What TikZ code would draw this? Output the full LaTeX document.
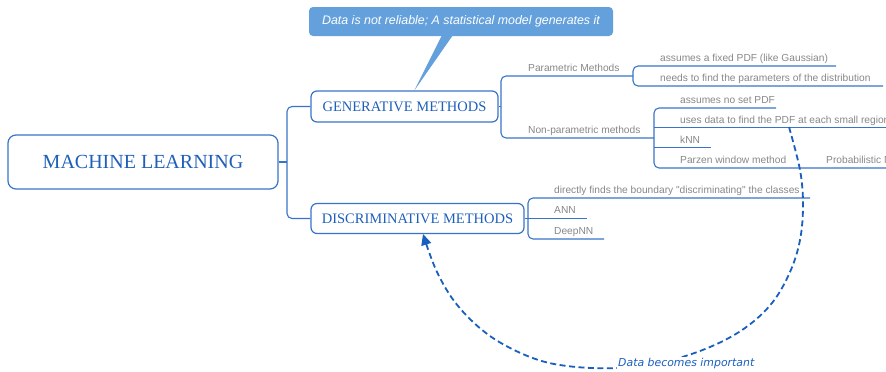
\documentclass[tikz,border=0pt]{standalone}
\usepackage{fontspec}
\setmainfont{Liberation Serif}
\newfontfamily\lsans{Liberation Sans}
\newfontfamily\dvs{DejaVu Sans}
\usetikzlibrary{arrows.meta}
\definecolor{boxblue}{RGB}{55,115,200}
\definecolor{titleblue}{RGB}{30,95,185}
\definecolor{leafgray}{RGB}{135,135,135}
\definecolor{callfill}{RGB}{100,160,220}
\definecolor{dashblue}{RGB}{25,95,190}
\tikzset{
  mainbox/.style={draw=boxblue, line width=1.2pt, rounded corners=6pt, text=titleblue, inner sep=0pt, font=\fontsize{14.5}{17}\selectfont},
  rootbox/.style={mainbox, rounded corners=8pt, font=\fontsize{20}{24}\selectfont},
  leaf/.style={anchor=base west, inner sep=0pt, text=leafgray, font=\lsans\fontsize{10.2}{12}\selectfont},
  conn/.style={draw=boxblue, line width=1.1pt, rounded corners=5pt},
  dasharrow/.style={draw=dashblue, line width=1.8pt, dash pattern=on 6pt off 3.5pt, -{Triangle[length=11pt,width=10pt]}},
}
\begin{document}
\begin{tikzpicture}[x=1pt,y=-1pt]
\useasboundingbox (0,0) rectangle (886,372);
\begin{scope}
\clip (0,0) rectangle (886,372);
% main boxes
\node[rootbox, minimum width=270pt, minimum height=54pt] (root) at (143,162) {MACHINE LEARNING};
\node[mainbox, minimum width=187pt, minimum height=31pt] (gen) at (404.5,106.5) {GENERATIVE METHODS};
\node[mainbox, minimum width=213pt, minimum height=30pt] (disc) at (417.5,218.5) {DISCRIMINATIVE METHODS};
% callout
\node[fill=callfill, rounded corners=4pt, minimum width=304pt, minimum height=29pt, inner sep=0pt,
      text=white, font=\lsans\itshape\fontsize{12.4}{14}\selectfont] (call) at (461,21.5)
      {Data is not reliable; A statistical model generates it};
\coordinate (tip) at (414,91);
\fill[callfill] (442,35) -- (tip) -- (453,35) -- cycle;
% root bracket
\coordinate (rj) at (287,162);
\draw[conn] (root.east) -- (rj);
\draw[conn] (gen.west) -- (287,106.5) -- (287,218.5) -- (disc.west);
% generative
\node[leaf] (par) at (528,71) {Parametric Methods};
\node[leaf] (npar) at (528,133) {Non-parametric methods};
\coordinate (gj) at (501,106.5);
\draw[conn] (gen.east) -- (gj);
\draw[conn] (633,76) -- (501,76) -- (501,138) -- (654,138);
% parametric leaves
\node[leaf] (p1) at (660,61) {assumes a fixed PDF (like Gaussian)};
\node[leaf] (p2) at (660,81) {needs to find the parameters of the distribution};
\draw[conn] (836,66) -- (633,66) -- (633,86) -- (883,86);
% non-parametric leaves
\node[leaf] (n1) at (680,103) {assumes no set PDF};
\node[leaf] (n2) at (680,123) {uses data to find the PDF at each small region};
\node[leaf] (n3) at (680,143) {kNN};
\node[leaf] (n4) at (680,163) {Parzen window method};
\node[leaf] (n5) at (826,163) {Probabilistic Neural Network};
\draw[conn] (776,108) -- (654,108) -- (654,168) -- (890,168);
\draw[conn] (654,127.6) -- (890,127.6);
\draw[conn] (654,147.6) -- (711,147.6);
% discriminative leaves
\node[leaf] (d1) at (554,193) {directly finds the boundary "discriminating" the classes};
\node[leaf] (d2) at (554,213.5) {ANN};
\node[leaf] (d3) at (554,234) {DeepNN};
\draw[conn] (disc.east) -- (587,218.5);
\draw[conn] (810,198) -- (528,198) -- (528,239) -- (604,239);
% dashed arrow
\coordinate (s) at (789,127);
\coordinate (e) at (423,234);
\draw[dasharrow] plot[smooth, tension=0.6] coordinates {(s) (800,170) (803,205) (800,240) (790,272) (772,303) (745,328) (710,347) (667,361) (617,368) (567,366) (530,357) (490,336) (458,306) (437,272) (e)};
\node[anchor=base west, inner sep=1pt, fill=white, text=dashblue, font=\dvs\itshape\fontsize{10.9}{12}\selectfont] (lbl) at (617,366) {Data becomes important};
\end{scope}
\end{tikzpicture}
\end{document}
